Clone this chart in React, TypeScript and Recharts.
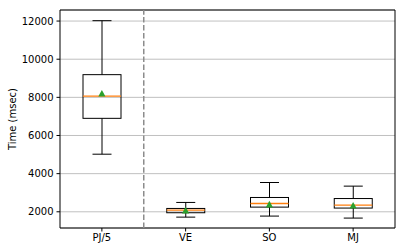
import React from "react";
import {
  ComposedChart,
  Bar,
  Scatter,
  XAxis,
  YAxis,
  CartesianGrid,
  ReferenceLine,
  ReferenceArea,
  Label,
} from "recharts";

const categories = ["PJ/5", "VE", "SO", "MJ"];
const whiskerLow = [5020, 1720, 1775, 1670];
const q1 = [6900, 1950, 2245, 2195];
const median = [8060, 2090, 2435, 2350];
const q3 = [9190, 2175, 2750, 2695];
const whiskerHigh = [12020, 2490, 3535, 3345];
const mean = [8200, 2070, 2385, 2330];
const yTicks = [2000, 4000, 6000, 8000, 10000, 12000];

const data = categories.map((name, i) => ({
  idx: i + 1,
  name,
  range: [whiskerLow[i], whiskerHigh[i]],
  lo: whiskerLow[i],
  hi: whiskerHigh[i],
  q1: q1[i],
  med: median[i],
  q3: q3[i],
  mean: mean[i],
}));

const FONT = "DejaVu Sans";

const BoxShape = (props: any) => {
  const { x, y, width, height, payload } = props;
  const top = Math.min(y, y + height);
  const h = Math.abs(height);
  const { lo, hi } = payload;
  const yOf = (v: number) => top + ((hi - v) / (hi - lo)) * h;
  const cx = x + width / 2;
  const capW = width / 2;
  const yq1 = yOf(payload.q1);
  const yq3 = yOf(payload.q3);
  const ym = yOf(payload.med);
  const yLo = yOf(lo);
  const yHi = yOf(hi);
  return (
    <g>
      <line x1={cx} x2={cx} y1={yHi} y2={yq3} stroke="#000" strokeWidth={1} />
      <line x1={cx} x2={cx} y1={yq1} y2={yLo} stroke="#000" strokeWidth={1} />
      <line x1={cx - capW / 2} x2={cx + capW / 2} y1={yHi} y2={yHi} stroke="#000" strokeWidth={1} />
      <line x1={cx - capW / 2} x2={cx + capW / 2} y1={yLo} y2={yLo} stroke="#000" strokeWidth={1} />
      <rect x={x} y={yq3} width={width} height={yq1 - yq3} fill="none" stroke="#000" strokeWidth={1} />
      <line x1={x} x2={x + width} y1={ym} y2={ym} stroke="#ff7f0e" strokeWidth={1.3} />
    </g>
  );
};

const Triangle = (props: any) => {
  const { cx, cy } = props;
  const s = 3.6;
  return (
    <path
      d={`M${cx},${cy - s} L${cx + s},${cy + s * 0.85} L${cx - s},${cy + s * 0.85} Z`}
      fill="#2ca02c"
    />
  );
};

export default function App() {
  return (
    <div style={{ position: "absolute", left: 0, top: 0 }}>
      <ComposedChart
        width={405}
        height={252}
        data={data}
        margin={{ top: 10, right: 10, bottom: 4, left: 0 }}
      >
        <CartesianGrid vertical={false} stroke="#b0b0b0" strokeWidth={0.8} />
        <XAxis
          type="number"
          dataKey="idx"
          domain={[0.5, 4.5]}
          ticks={[1, 2, 3, 4]}
          allowDataOverflow
          tickFormatter={(v: number) => categories[v - 1]}
          axisLine={false}
          tickLine={{ stroke: "#000" }}
          tickSize={3.5}
          tickMargin={2}
          height={20}
          tick={{ fill: "#000", fontSize: 10, fontFamily: FONT }}
        />
        <YAxis
          type="number"
          domain={[1150, 12580]}
          ticks={yTicks}
          allowDataOverflow
          axisLine={false}
          tickLine={{ stroke: "#000" }}
          tickSize={3.5}
          tickMargin={3}
          width={60}
          tick={{ fill: "#000", fontSize: 10, fontFamily: FONT }}
        >
          <Label
            value="Time (msec)"
            angle={-90}
            position="insideLeft"
            offset={12}
            style={{ textAnchor: "middle", fill: "#000", fontSize: 10, fontFamily: FONT }}
          />
        </YAxis>
        <ReferenceLine
          x={1.5}
          stroke="#8c8c8c"
          strokeDasharray="5.5 2.4"
          strokeWidth={1.5}
        />
        <Bar dataKey="range" barSize={38} shape={BoxShape} isAnimationActive={false} />
        <Scatter dataKey="mean" shape={Triangle} isAnimationActive={false} />
        <ReferenceArea
          x1={0.5}
          x2={4.5}
          y1={1150}
          y2={12580}
          fill="none"
          stroke="#000"
          strokeWidth={1}
          fillOpacity={0}
        />
      </ComposedChart>
    </div>
  );
}
